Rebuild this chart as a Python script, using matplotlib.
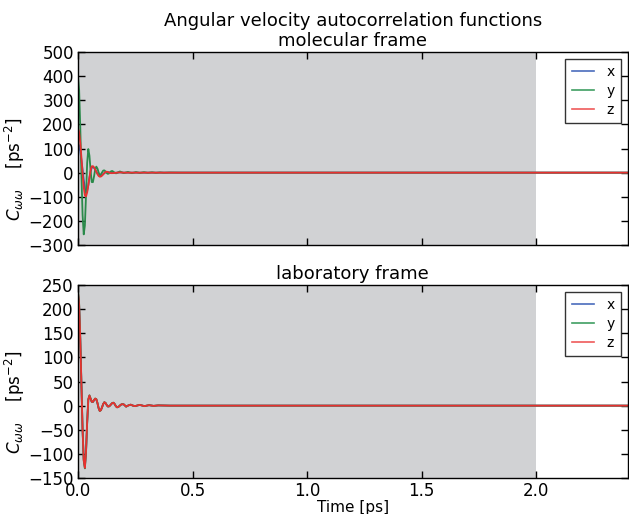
import matplotlib
matplotlib.use("Agg")
import matplotlib.pyplot as plt

# ---------------- data ----------------
# molecular frame
t_mol = [0.000, 0.005, 0.010, 0.015, 0.020, 0.025, 0.030, 0.035, 0.040, 0.045,
         0.050, 0.055, 0.060, 0.065, 0.070, 0.075, 0.080, 0.085, 0.090, 0.095,
         0.100, 0.105, 0.110, 0.115, 0.120, 0.125, 0.130, 0.135, 0.140, 0.145,
         0.150, 0.157, 0.166, 0.175, 0.183, 0.192, 0.200, 0.209, 0.218, 0.227,
         0.235, 0.244, 0.253, 0.270, 0.288, 0.305, 0.323, 0.340, 0.358, 0.375,
         0.400, 0.450, 0.500, 1.000, 1.500, 2.000, 2.400]
mol_x = [120, 112, 88, 52, 12, -30, -65, -82, -75, -52,
         -22, 5, 20, 24, 20, 13, 4, -4, -10, -13,
         -13, -10, -6, -2, 1.5, 3, 2.5, 1, -0.5, -1.5,
         -1.5, -1, -0.5, 0.5, 1, 0.5, 0, 0, 0, 0,
         0, 0, 0, 0, 0, 0, 0, 0, 0, 0,
         0, 0, 0, 0, 0, 0, 0]
mol_y = [400, 342, 187, -8, -175, -256, -220, -95, 40, 98,
         70, 8, -39, -39.5, -15.5, 12.7, 25, 17, 0.8, -10,
         -7.4, 0.9, 8.5, 9.5, 5, -1.3, -5, -3.4, 1.5, 6,
         6.8, 2, -3, 1, 5, 1, -2, 0.5, 3, 0,
         -2, 0, 2.5, -1.5, 2, -1, 1.5, -1, 1, -0.5,
         0.5, 0, 0, 0, 0, 0, 0]
mol_z = [184, 168, 124, 62, -4, -61, -94, -98.5, -82, -53,
         -19, 10, 26, 27, 22, 13.6, 3.5, -6, -13.7, -17,
         -16, -12.4, -7, -1.6, 2.5, 4, 3, 1, -1, -2,
         -2, -1.5, -0.5, 0.5, 1, 0.5, 0, 0, 0, 0,
         0, 0, 0, 0, 0, 0, 0, 0, 0, 0,
         0, 0, 0, 0, 0, 0, 0]

# laboratory frame
t_lab = [0.000, 0.005, 0.010, 0.015, 0.020, 0.025, 0.030, 0.035, 0.040, 0.045,
         0.050, 0.055, 0.060, 0.065, 0.070, 0.075, 0.080, 0.085, 0.090, 0.095,
         0.100, 0.105, 0.110, 0.115, 0.120, 0.125, 0.130, 0.135, 0.140, 0.145,
         0.150, 0.155, 0.160, 0.165, 0.170, 0.175, 0.180, 0.185, 0.190, 0.195,
         0.200, 0.210, 0.220, 0.230, 0.240, 0.250, 0.260, 0.270, 0.290, 0.310,
         0.330, 0.350, 0.400, 0.500, 1.000, 1.500, 2.000, 2.400]
lab_x = [232, 207, 137, 43, -49, -111, -127, -95, -35, 12,
         20, 14, 8, 7.5, 11, 14, 13, 5, -5, -10.5,
         -9, -3.3, 3.2, 6.8, 5.5, 1.5, -1.6, -1.5, 0.3, 3,
         5.4, 5.8, 3.3, -0.8, -3.3, -2.9, -1.2, 1, 2.6, 2.9,
         2.4, -1.9, 0.5, 1.9, 0, -1, 0.5, 1.4, -1, 1,
         -0.5, 0.5, 0, 0, 0, 0, 0, 0]
lab_y = [238, 211, 139, 43, -51, -114, -130, -97, -36, 13,
         21.5, 15, 8.2, 7.9, 11.6, 14.8, 13.6, 5.4, -5.2, -11.2,
         -9.5, -3.5, 3.4, 7.2, 5.8, 1.6, -1.8, -1.7, 0.3, 3.2,
         5.7, 6.1, 3.5, -0.9, -3.5, -3.1, -1.2, 1.1, 2.8, 3.1,
         2.6, -2.1, 0.5, 2.1, 0, -1, 0.5, 1.6, -1, 1,
         -0.5, 0.5, 0, 0, 0, 0, 0, 0]
lab_z = [235, 209, 138, 43, -50, -113, -129, -96, -35, 13,
         21, 14.5, 8, 7.8, 11.4, 14.6, 13.4, 5.3, -5.1, -11,
         -9.3, -3.4, 3.3, 7, 5.7, 1.6, -1.7, -1.6, 0.3, 3.1,
         5.6, 6, 3.4, -0.9, -3.4, -3, -1.2, 1.1, 2.7, 3,
         2.5, -2, 0.5, 2, 0, -1, 0.5, 1.5, -1, 1,
         -0.5, 0.5, 0, 0, 0, 0, 0, 0]

labels = ["x", "y", "z"]
shade_end = 2.0
x_ticks = [0.0, 0.5, 1.0, 1.5, 2.0]
mol_yticks = [-300, -200, -100, 0, 100, 200, 300, 400, 500]
lab_yticks = [-150, -100, -50, 0, 50, 100, 150, 200, 250]
y_label = r"$C_{\omega\omega}$" + "    [ps$^{-2}$]"

# ---------------- style ----------------
plt.rcParams['font.family'] = ['DejaVu Sans']
plt.rcParams['xtick.direction'] = 'in'
plt.rcParams['ytick.direction'] = 'in'
plt.rcParams['mathtext.fontset'] = 'dejavusans'

colors = ["#3454a4", "#2a8a4a", "#e8312f"]
legend_colors = ["#4a6cbc", "#3f9e62", "#ef5a5a"]

fig = plt.figure(figsize=(6.29, 5.14), dpi=100)
ax1 = fig.add_axes([0.124, 0.5233, 0.874, 0.3755])
ax2 = fig.add_axes([0.124, 0.0700, 0.874, 0.3755])


def draw(ax, t, series, yticks, title):
    ax.axvspan(0, shade_end, color="#d1d2d4", lw=0, zorder=0)
    for s, c, lab in zip(series, colors, labels):
        ax.plot(t, s, color=c, lw=1.3, label=lab)
    ax.set_xlim(0, 2.4)
    ax.set_ylim(yticks[0], yticks[-1])
    ax.set_yticks(yticks)
    ax.set_xticks(x_ticks)
    ax.tick_params(top=True, right=True, labelsize=12, length=5, width=1,
                   pad=3)
    for sp in ax.spines.values():
        sp.set_linewidth(1.0)
    ax.set_ylabel(y_label, fontsize=12)
    ax.yaxis.set_label_coords(-0.093, 0.39)
    ax.set_title(title, fontsize=13, pad=4)
    leg = ax.legend(loc="upper right", fontsize=10, handlelength=1.6,
                    borderaxespad=0.5, labelspacing=0.35, frameon=True,
                    fancybox=False, borderpad=0.45, handletextpad=0.9)
    leg.get_frame().set_edgecolor("black")
    leg.get_frame().set_linewidth(1.0)
    for h, lc in zip(leg.get_lines(), legend_colors):
        h.set_color(lc)
        h.set_linewidth(1.2)


draw(ax1, t_mol, [mol_x, mol_y, mol_z], mol_yticks,
     "Angular velocity autocorrelation functions\nmolecular frame")
draw(ax2, t_lab, [lab_x, lab_y, lab_z], lab_yticks, "laboratory frame")
ax1.set_xticklabels([])
ax2.set_xticklabels(["0.0", "0.5", "1.0", "1.5", "2.0"])
ax2.set_xlabel("Time [ps]", fontsize=11, labelpad=0)

fig.savefig("out.png", dpi=100)
